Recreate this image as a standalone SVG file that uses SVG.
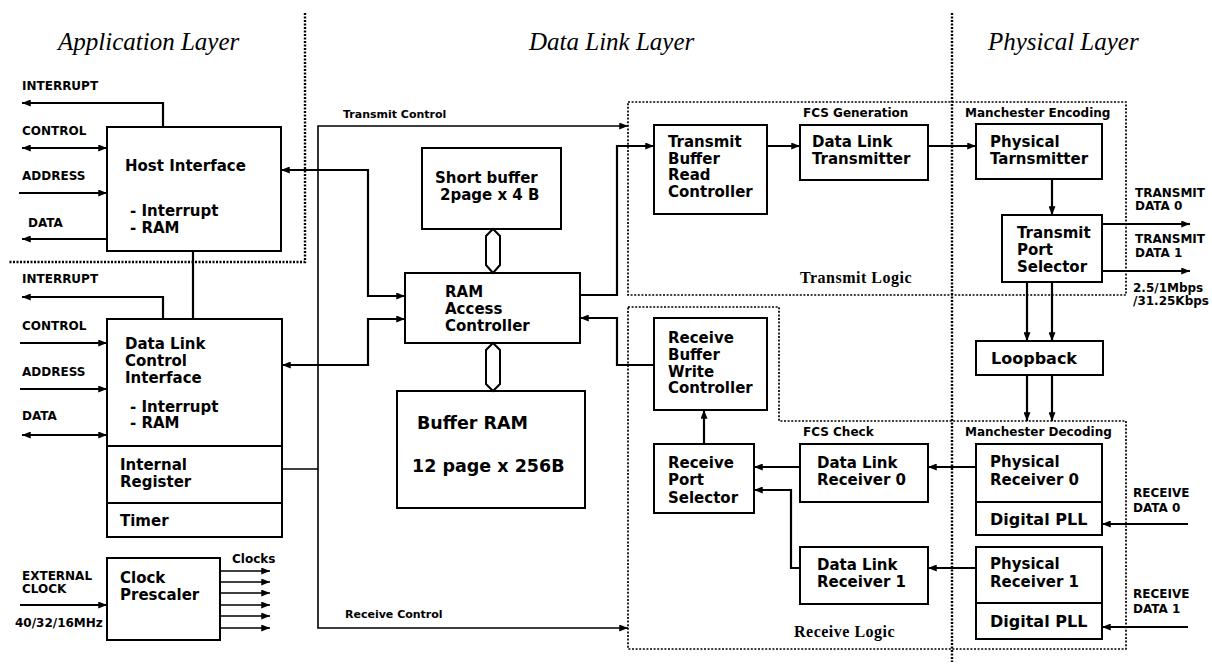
<svg xmlns="http://www.w3.org/2000/svg" width="1212" height="667" viewBox="0 0 1212 667">
<style>
.bg{fill:#fff}
.box{fill:none;stroke:#000;stroke-width:2}
.ln{fill:none;stroke:#000;stroke-width:2.2}
.thin{fill:none;stroke:#000;stroke-width:1.6}
.dot{fill:none;stroke:#000;stroke-width:1.7;stroke-dasharray:2 1.6}
.dotb{fill:none;stroke:#000;stroke-width:2.4;stroke-dasharray:2 1.5}
.hex{fill:#fff;stroke:#000;stroke-width:2}
.t{font-family:"DejaVu Sans","Liberation Sans",sans-serif;font-weight:bold;font-size:15px;fill:#000}
.t16{font-family:"DejaVu Sans","Liberation Sans",sans-serif;font-weight:bold;font-size:16px;fill:#000}
.big{font-family:"DejaVu Sans","Liberation Sans",sans-serif;font-weight:bold;font-size:17.5px;fill:#000}
.s{font-family:"DejaVu Sans","Liberation Sans",sans-serif;font-weight:bold;font-size:12px;fill:#000}
.s11{font-family:"DejaVu Sans","Liberation Sans",sans-serif;font-weight:bold;font-size:11px;fill:#000}
.title{font-family:"Liberation Serif",serif;font-style:italic;font-size:25px;fill:#000}
.logic{font-family:"Liberation Serif",serif;font-weight:bold;font-size:16px;letter-spacing:0.5px;fill:#000}
</style>
<defs>
<marker id="ah" viewBox="0 0 10 8" refX="10" refY="4" markerWidth="10" markerHeight="7" markerUnits="userSpaceOnUse" orient="auto-start-reverse">
<path d="M0,0 L10,4 L0,8 Z" fill="#000"/>
</marker>
</defs>
<rect class="bg" x="0" y="0" width="1212" height="667"/>

<g id="titles">
<text class="title" x="58" y="50">Application Layer</text>
<text class="title" x="529" y="50">Data Link Layer</text>
<text class="title" x="988" y="50">Physical Layer</text>
</g>

<g id="boundaries">
<path class="dotb" d="M305,13 V262 H8"/>
<path class="dotb" d="M952,13 V662"/>
<rect class="dot" x="628" y="102" width="498" height="193"/>
<path class="dot" d="M628,307 H779 V421 H1126 V649 H628 Z"/>
<text class="s" x="803" y="117">FCS Generation</text>
<text class="s" x="965" y="117">Manchester Encoding</text>
<text class="s" x="803" y="436">FCS Check</text>
<text class="s" x="965" y="436">Manchester Decoding</text>
<text class="logic" x="800" y="283">Transmit Logic</text>
<text class="logic" x="794" y="637">Receive Logic</text>
</g>

<g id="connectors">
<path class="ln" d="M163,127 V103 H22" marker-end="url(#ah)"/>
<path class="ln" d="M22,148 H107" marker-start="url(#ah)" marker-end="url(#ah)"/>
<path class="ln" d="M19,193 H107" marker-end="url(#ah)"/>
<path class="ln" d="M107,239 H22" marker-end="url(#ah)"/>
<path class="ln" d="M405,296 H368 V170 H281" marker-start="url(#ah)" marker-end="url(#ah)"/>
<path class="ln" d="M405,319 H368 V365 H282" marker-start="url(#ah)" marker-end="url(#ah)"/>
<path class="ln" d="M193,251 V319"/>
<path class="ln" d="M163,319 V297 H22" marker-end="url(#ah)"/>
<path class="ln" d="M20,343 H107" marker-end="url(#ah)"/>
<path class="ln" d="M20,389 H107" marker-end="url(#ah)"/>
<path class="ln" d="M22,435 H107" marker-start="url(#ah)" marker-end="url(#ah)"/>
<path class="thin" d="M282,469 H318"/>
<path class="thin" d="M318,469 V126 H628" marker-end="url(#ah)"/>
<path class="thin" d="M318,469 V628 H628" marker-end="url(#ah)"/>
<path class="ln" d="M20,605 H107" marker-end="url(#ah)"/>
<path class="thin" d="M220,571 H270" marker-end="url(#ah)"/>
<path class="thin" d="M220,582 H270" marker-end="url(#ah)"/>
<path class="thin" d="M220,593 H270" marker-end="url(#ah)"/>
<path class="thin" d="M220,605 H270" marker-end="url(#ah)"/>
<path class="thin" d="M220,616 H270" marker-end="url(#ah)"/>
<path class="thin" d="M220,628 H270" marker-end="url(#ah)"/>
<path class="ln" d="M580,295 H617 V146 H654" marker-end="url(#ah)"/>
<path class="ln" d="M767,146 H800" marker-end="url(#ah)"/>
<path class="ln" d="M928,146 H976" marker-end="url(#ah)"/>
<path class="ln" d="M1052,179 V215" marker-end="url(#ah)"/>
<path class="ln" d="M1102,224 H1190" marker-end="url(#ah)"/>
<path class="ln" d="M1102,271 H1190" marker-end="url(#ah)"/>
<path class="ln" d="M1027,282 V341" marker-end="url(#ah)"/>
<path class="ln" d="M1052,282 V341" marker-end="url(#ah)"/>
<path class="ln" d="M1027,375 V421" marker-end="url(#ah)"/>
<path class="ln" d="M1052,375 V421" marker-end="url(#ah)"/>
<path class="ln" d="M654,365 H617 V318 H580" marker-end="url(#ah)"/>
<path class="ln" d="M704,444 V410" marker-end="url(#ah)"/>
<path class="ln" d="M800,467 H754" marker-end="url(#ah)"/>
<path class="ln" d="M800,568 H791 V490 H754" marker-end="url(#ah)"/>
<path class="ln" d="M976,467 H928" marker-end="url(#ah)"/>
<path class="ln" d="M976,568 H928" marker-end="url(#ah)"/>
<path class="ln" d="M1188,524 H1102" marker-end="url(#ah)"/>
<path class="ln" d="M1188,627 H1102" marker-end="url(#ah)"/>
<polygon class="hex" points="493,229 500,236 500,265 493,273 486,265 486,236"/>
<polygon class="hex" points="493,343 500,350 500,384 493,391 486,384 486,350"/>
</g>

<g id="labels">
<text class="s" x="22" y="90">INTERRUPT</text>
<text class="s" x="22" y="135">CONTROL</text>
<text class="s" x="22" y="180">ADDRESS</text>
<text class="s" x="28" y="227">DATA</text>
<text class="s" x="22" y="283">INTERRUPT</text>
<text class="s" x="22" y="330">CONTROL</text>
<text class="s" x="22" y="376">ADDRESS</text>
<text class="s" x="22" y="420">DATA</text>
<text class="s" x="22" y="580">EXTERNAL</text>
<text class="s" x="22" y="593">CLOCK</text>
<text class="s" x="15" y="627">40/32/16MHz</text>
<text class="s" x="232" y="563">Clocks</text>
<text class="s11" x="343" y="118">Transmit Control</text>
<text class="s11" x="345" y="618">Receive Control</text>
<text class="s" x="1135" y="197">TRANSMIT</text>
<text class="s" x="1135" y="210">DATA 0</text>
<text class="s" x="1135" y="243">TRANSMIT</text>
<text class="s" x="1135" y="257">DATA 1</text>
<text class="s" x="1133" y="292">2.5/1Mbps</text>
<text class="s" x="1133" y="305">/31.25Kbps</text>
<text class="s" x="1133" y="497">RECEIVE</text>
<text class="s" x="1133" y="512">DATA 0</text>
<text class="s" x="1133" y="598">RECEIVE</text>
<text class="s" x="1133" y="613">DATA 1</text>
</g>

<g id="host-interface">
<rect class="box" x="107" y="127" width="174" height="124"/>
<text class="t" x="125" y="171">Host Interface</text>
<text class="t" x="130" y="216">- Interrupt</text>
<text class="t" x="130" y="233">- RAM</text>
</g>

<g id="data-link-control-interface">
<rect class="box" x="107" y="319" width="175" height="218"/>
<path class="box" d="M107,446 H282 M107,503 H282"/>
<text class="t" x="125" y="349">Data Link</text>
<text class="t" x="125" y="366">Control</text>
<text class="t" x="125" y="383">Interface</text>
<text class="t" x="130" y="412">- Interrupt</text>
<text class="t" x="130" y="428">- RAM</text>
<text class="t" x="120" y="470">Internal</text>
<text class="t" x="120" y="487">Register</text>
<text class="t" x="120" y="526">Timer</text>
</g>

<g id="clock-prescaler">
<rect class="box" x="107" y="558" width="113" height="82"/>
<text class="t" x="120" y="583">Clock</text>
<text class="t" x="120" y="600">Prescaler</text>
</g>

<g id="short-buffer">
<rect class="box" x="422" y="148" width="139" height="81"/>
<text class="t" x="435" y="183">Short buffer</text>
<text class="t" x="440" y="200">2page x 4 B</text>
</g>

<g id="ram-access-controller">
<rect class="box" x="405" y="273" width="175" height="70"/>
<text class="t" x="445" y="297">RAM</text>
<text class="t" x="445" y="314">Access</text>
<text class="t" x="445" y="331">Controller</text>
</g>

<g id="buffer-ram">
<rect class="box" x="397" y="391" width="188" height="117"/>
<text class="big" x="417" y="429">Buffer RAM</text>
<text class="big" x="412" y="472">12 page x 256B</text>
</g>

<g id="transmit-buffer-read-controller">
<rect class="box" x="654" y="125" width="113" height="89"/>
<text class="t" x="668" y="147">Transmit</text>
<text class="t" x="668" y="164">Buffer</text>
<text class="t" x="668" y="180">Read</text>
<text class="t" x="668" y="197">Controller</text>
</g>

<g id="data-link-transmitter">
<rect class="box" x="800" y="125" width="128" height="55"/>
<text class="t" x="812" y="147">Data Link</text>
<text class="t" x="812" y="164">Transmitter</text>
</g>

<g id="physical-transmitter">
<rect class="box" x="976" y="124" width="126" height="55"/>
<text class="t" x="990" y="147">Physical</text>
<text class="t" x="990" y="164">Tarnsmitter</text>
</g>

<g id="transmit-port-selector">
<rect class="box" x="1002" y="215" width="100" height="67"/>
<text class="t" x="1017" y="238">Transmit</text>
<text class="t" x="1017" y="255">Port</text>
<text class="t" x="1017" y="272">Selector</text>
</g>

<g id="loopback">
<rect class="box" x="976" y="341" width="127" height="34"/>
<text class="t16" x="991" y="364">Loopback</text>
</g>

<g id="receive-buffer-write-controller">
<rect class="box" x="654" y="318" width="113" height="92"/>
<text class="t" x="668" y="343">Receive</text>
<text class="t" x="668" y="360">Buffer</text>
<text class="t" x="668" y="377">Write</text>
<text class="t" x="668" y="393">Controller</text>
</g>

<g id="receive-port-selector">
<rect class="box" x="654" y="444" width="100" height="69"/>
<text class="t" x="668" y="468">Receive</text>
<text class="t" x="668" y="485">Port</text>
<text class="t" x="668" y="503">Selector</text>
</g>

<g id="data-link-receiver-0">
<rect class="box" x="800" y="444" width="128" height="58"/>
<text class="t" x="817" y="468">Data Link</text>
<text class="t" x="817" y="485">Receiver 0</text>
</g>

<g id="data-link-receiver-1">
<rect class="box" x="800" y="547" width="128" height="57"/>
<text class="t" x="817" y="570">Data Link</text>
<text class="t" x="817" y="587">Receiver 1</text>
</g>

<g id="physical-receiver-0">
<rect class="box" x="976" y="444" width="126" height="91"/>
<path class="box" d="M976,502 H1102"/>
<text class="t" x="990" y="467">Physical</text>
<text class="t" x="990" y="485">Receiver 0</text>
<text class="t16" x="990" y="525">Digital PLL</text>
</g>

<g id="physical-receiver-1">
<rect class="box" x="976" y="547" width="126" height="92"/>
<path class="box" d="M976,603 H1102"/>
<text class="t" x="990" y="569">Physical</text>
<text class="t" x="990" y="587">Receiver 1</text>
<text class="t16" x="990" y="627">Digital PLL</text>
</g>
</svg>
